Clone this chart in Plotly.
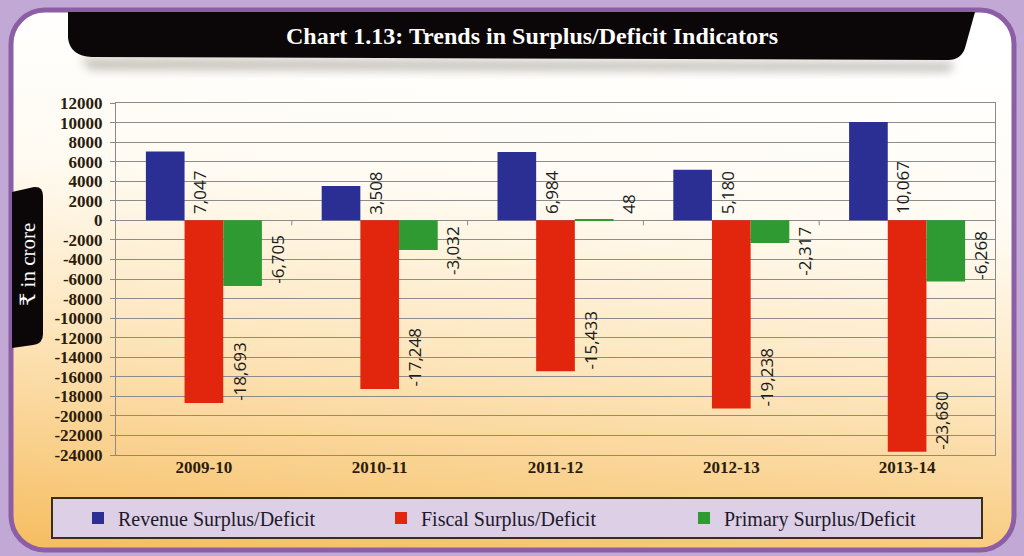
import base64
import plotly.graph_objects as go

# ---- data -------------------------------------------------------------
years = ["2009-10", "2010-11", "2011-12", "2012-13", "2013-14"]
revenue = [7047, 3508, 6984, 5180, 10067]
fiscal = [-18693, -17248, -15433, -19238, -23680]
primary = [-6705, -3032, 48, -2317, -6268]

series_names = ["Revenue Surplus/Deficit", "Fiscal Surplus/Deficit", "Primary Surplus/Deficit"]
series_values = [revenue, fiscal, primary]
series_colors = ["#2b2f94", "#e2250d", "#2f9a31"]

y_ticks = list(range(-24000, 12001, 2000))

# ---- geometry ---------------------------------------------------------
W, H = 1024, 556
ML, MR, MT, MB = 116, 29, 103, 101
PW, PH = W - ML - MR, H - MT - MB
BARGAP = 0.34
BAR_W = (1 - BARGAP) / 3
Y_MIN, Y_MAX = -24000, 12000
UNITS_PER_PX = (Y_MAX - Y_MIN) / PH


def px_x(x):
    return (x - ML) / PW


def px_y(y):
    return 1 - (y - MT) / PH


# ---- background panel (svg) -------------------------------------------
svg = f"""<svg xmlns="http://www.w3.org/2000/svg" width="{W}" height="{H}" viewBox="0 0 {W} {H}">
<defs>
<linearGradient id="g" x1="0.25" y1="0" x2="0.1" y2="1">
<stop offset="0" stop-color="#ffffff"/>
<stop offset="0.3" stop-color="#fffbf2"/>
<stop offset="0.6" stop-color="#fde6bd"/>
<stop offset="1" stop-color="#f6be63"/>
</linearGradient>
<filter id="s" x="-5%" y="-50%" width="110%" height="200%"><feGaussianBlur stdDeviation="5"/></filter>
</defs>
<rect width="{W}" height="{H}" fill="#c2a8d5"/>
<rect x="11" y="10" width="1003" height="540" rx="34" fill="url(#g)" stroke="#8c5ea6" stroke-width="5"/>
<path d="M80,58 L955,62 L950,72 L90,70 Z" fill="#9a948a" opacity="0.55" filter="url(#s)"/>
<path d="M68,12 L975,12 L965,48 Q961,60 948,60 L92,57 Q70,56 68,38 Z" fill="#0b0607"/>
<path d="M12,192 L34,187 Q43,186 43,196 L43,334 Q43,344 33,345 L12,348 Z" fill="#0b0708"/>
</svg>"""
svg_uri = "data:image/svg+xml;base64," + base64.b64encode(svg.encode()).decode()

fig = go.Figure()

for name, vals, color in zip(series_names, series_values, series_colors):
    fig.add_trace(go.Bar(
        x=years, y=vals, name=name,
        marker=dict(color=color, line=dict(width=0)),
    ))

# value labels beside each bar, rotated
annotations = []
for k, vals in enumerate(series_values):
    offset = (k - 1) * BAR_W
    for i, v in enumerate(vals):
        x_right = i + offset + BAR_W / 2
        label = f"{v:,}"
        text_len = (len(label) * 8.2) * UNITS_PER_PX
        if v >= 0:
            y, yanchor, yshift = 0, "bottom", 4
        elif -v > text_len + 6 * UNITS_PER_PX:
            y, yanchor, yshift = v, "bottom", 0
        else:
            y, yanchor, yshift = 0, "top", -4
        annotations.append(dict(
            x=x_right, y=y, xref="x", yref="y", text=label, showarrow=False,
            textangle=-90, xanchor="left", yanchor=yanchor, xshift=2, yshift=yshift,
            font=dict(family="Open Sans, sans-serif", size=17, color="#1a1a1a"),
        ))

annotations.append(dict(
    x=px_x(532), y=px_y(36), xref="paper", yref="paper",
    text="<b>Chart 1.13: Trends in Surplus/Deficit Indicators</b>", showarrow=False,
    font=dict(family="Liberation Serif, Times New Roman, serif", size=24, color="#ffffff"),
    xanchor="center", yanchor="middle",
))
annotations.append(dict(
    x=px_x(28), y=px_y(265), xref="paper", yref="paper",
    text="₹ in crore", showarrow=False, textangle=-90,
    font=dict(family="Liberation Serif, DejaVu Serif, serif", size=21, color="#ffffff"),
    xanchor="center", yanchor="middle",
))

# tick marks on the zero line between categories
shapes = []
for i in range(1, len(years)):
    shapes.append(dict(
        type="line", xref="x", yref="y", x0=i - 0.5, x1=i - 0.5,
        ysizemode="pixel", yanchor=0, y0=0, y1=-5,
        line=dict(color="#8a8a8a", width=1),
    ))

# legend frame
shapes.append(dict(
    type="rect", xref="paper", yref="paper",
    x0=px_x(52), x1=px_x(982), y0=px_y(538), y1=px_y(498),
    fillcolor="#dccfe6", line=dict(color="#3b2c1c", width=2), layer="above",
))

fig.update_layout(
    width=W, height=H,
    margin=dict(l=ML, r=MR, t=MT, b=MB),
    paper_bgcolor="#c2a8d5",
    plot_bgcolor="#d3ddee",
    barmode="group", bargap=BARGAP, bargroupgap=0,
    showlegend=True,
    legend=dict(
        orientation="h", x=px_x(78), y=px_y(518), xanchor="left", yanchor="middle",
        bgcolor="rgba(0,0,0,0)", borderwidth=0,
        font=dict(family="Liberation Serif, Times New Roman, serif", size=20, color="#1c1a2a"),
        entrywidth=258, entrywidthmode="pixels", itemclick=False,
    ),
    images=[dict(
        source=svg_uri, xref="paper", yref="paper",
        x=px_x(0), y=px_y(0), sizex=W / PW, sizey=H / PH,
        xanchor="left", yanchor="top", sizing="stretch", layer="below",
    )],
    annotations=annotations,
    shapes=shapes,
    xaxis=dict(
        type="category",
        showgrid=False, showline=True, mirror=True, linecolor="#8a8a8a", linewidth=1,
        ticks="", ticklabelstandoff=-3,
        tickfont=dict(family="Liberation Serif, Times New Roman, serif", size=17, color="#2b1c0c"),
        tickprefix="<b>", ticksuffix="</b>",
    ),
    yaxis=dict(
        range=[Y_MIN, Y_MAX], tickvals=y_ticks, ticktext=[f"<b>{t}</b>" for t in y_ticks],
        showgrid=True, gridcolor="#8c8c8c", gridwidth=1,
        zeroline=True, zerolinecolor="#8c8c8c", zerolinewidth=1,
        showline=True, mirror=True, linecolor="#8a8a8a", linewidth=1,
        ticks="outside", ticklen=5, tickcolor="#8a8a8a", ticklabelstandoff=4,
        tickfont=dict(family="Liberation Serif, Times New Roman, serif", size=17, color="#2b1c0c"),
    ),
)

fig.write_html("out.html")
